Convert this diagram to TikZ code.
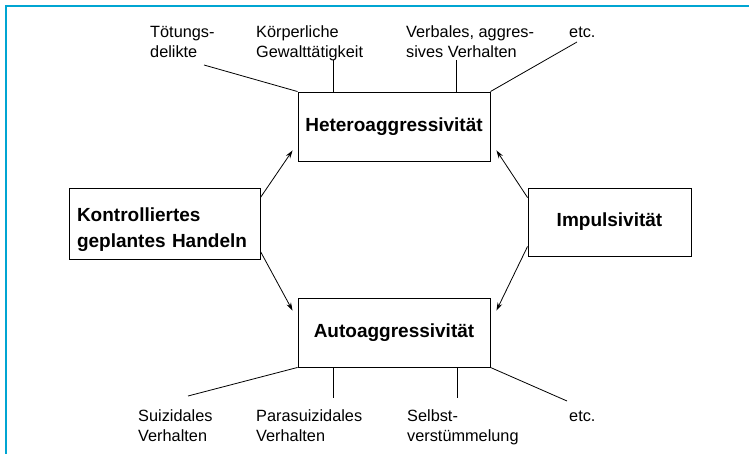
\documentclass[tikz,border=0pt]{standalone}
\usepackage{fontspec}
\setmainfont{Liberation Sans}
\usetikzlibrary{arrows.meta}
\definecolor{framecyan}{RGB}{0,165,210}
\tikzset{
  box/.style={draw, line width=0.9pt, inner sep=0pt, font=\fontsize{19}{26}\selectfont\bfseries},
  lbl/.style={inner sep=0pt, anchor=base west, align=left, font=\fontsize{16.3}{20}\selectfont},
  link/.style={line width=0.8pt},
  arr/.style={line width=0.8pt, -{Stealth[length=8pt, width=5pt]}},
}
\begin{document}
\begin{tikzpicture}[x=1pt, y=-1pt]
      \useasboundingbox (0, 0) rectangle (749, 454);
      \draw [framecyan, line width=2pt] (6, 454) -- (6, 6) -- (749, 6);
      % boxes
      \node [box, minimum width=192pt, minimum height=69pt] (hetero) at (394, 126.5) {Heteroaggressivität};
      \node [box, minimum width=192pt, minimum height=69pt] (auto) at (394, 332.5) {Autoaggressivität};
      \node [box, minimum width=191pt, minimum height=71pt, align=left, text width=175pt, text height=27pt] (kontr) at (164.5, 223.5) {Kontrolliertes\\geplantes Handeln};
      \node [box, minimum width=163pt, minimum height=68pt] (impuls) at (609.5, 222) {Impulsivität};
      % arrows
      \draw [arr] ([yshift=-10pt]kontr.north east) -- ([xshift=-5pt, yshift=11pt]hetero.south west);
      \draw [arr] ([yshift=8pt]kontr.south east) -- ([xshift=-5pt, yshift=-13pt]auto.north west);
      \draw [arr] ([yshift=-10pt]impuls.north west) -- ([xshift=6pt, yshift=11pt]hetero.south east);
      \draw [arr] ([yshift=10pt]impuls.south west) -- ([xshift=6pt, yshift=-13pt]auto.north east);
      % upper labels
      \node [lbl] (toet) at (150, 58) {Tötungs-\\delikte};
      \node [lbl] (gewalt) at (256, 58) {Körperliche\\Gewalttätigkeit};
      \node [lbl] (verbal) at (406, 58) {Verbales, aggres-\\sives Verhalten};
      \node [lbl] (etcH) at (569, 38) {etc.};
      \coordinate (toetEnd) at (204, 65);
      \coordinate (gewaltEnd) at (333, 60);
      \coordinate (verbalEnd) at (456, 60);
      \coordinate (etcHEnd) at (577, 42);
      \draw [link] (toetEnd) -- (hetero.north west);
      \draw [link] (gewaltEnd) -- (gewaltEnd |- hetero.north);
      \draw [link] (verbalEnd) -- (verbalEnd |- hetero.north);
      \draw [link] (etcHEnd) -- (hetero.north east);
      % lower labels
      \node [lbl] (suiz) at (138, 441) {Suizidales\\Verhalten};
      \node [lbl] (para) at (256, 441) {Parasuizidales\\Verhalten};
      \node [lbl] (selbst) at (407, 441) {Selbst-\\verstümmelung};
      \node [lbl] (etcA) at (569, 421) {etc.};
      \coordinate (suizEnd) at (188, 396);
      \coordinate (paraEnd) at (333, 398);
      \coordinate (selbstEnd) at (457, 398);
      \coordinate (etcAEnd) at (567, 401);
      \draw [link] (auto.south west) -- (suizEnd);
      \draw [link] (paraEnd |- auto.south) -- (paraEnd);
      \draw [link] (selbstEnd |- auto.south) -- (selbstEnd);
      \draw [link] (auto.south east) -- (etcAEnd);
\end{tikzpicture}
\end{document}
